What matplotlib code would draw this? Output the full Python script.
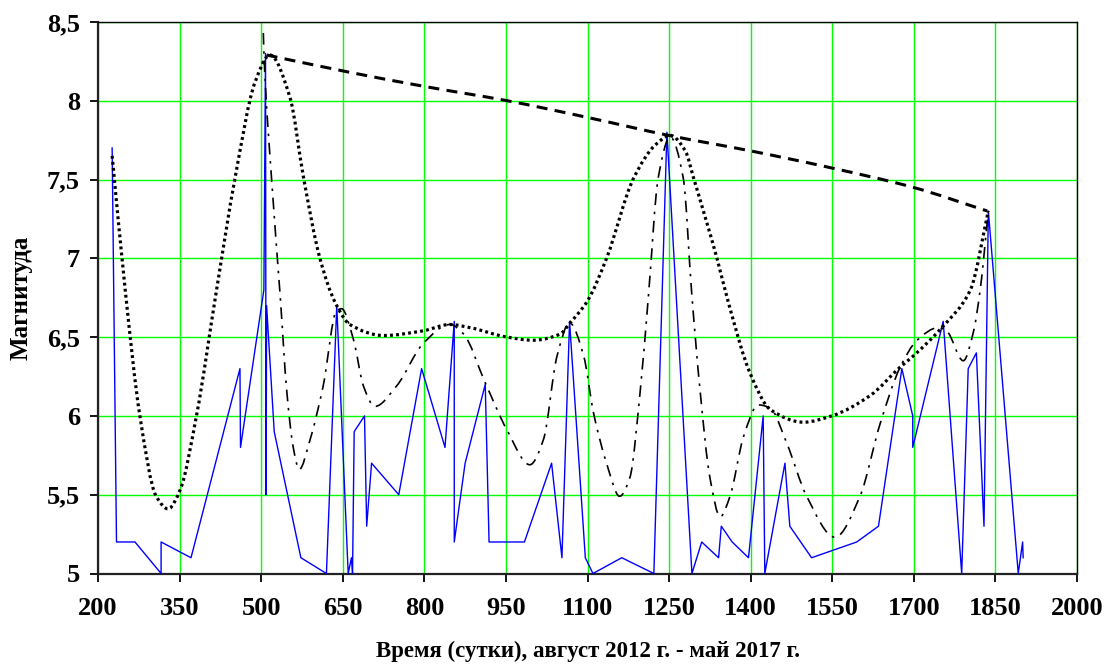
import numpy as np
import matplotlib
matplotlib.use("Agg")
import matplotlib.pyplot as plt
from matplotlib.path import Path
from matplotlib.patches import PathPatch
from matplotlib.ticker import FuncFormatter

# ---- data ----
blue_x = [226, 234, 268, 316, 316, 371, 461, 462, 505, 508, 509, 510, 524, 573, 620, 639,
          660, 666, 668, 671, 690, 694, 703, 753, 795, 838, 855, 855, 875, 912, 919, 984,
          1034, 1053, 1067, 1096, 1110, 1163, 1222, 1246, 1292, 1310, 1341, 1346, 1366,
          1396, 1423, 1426, 1463, 1472, 1512, 1595, 1635, 1678, 1698, 1698, 1754, 1788,
          1800, 1815, 1829, 1837, 1892, 1900, 1901]
blue_y = [7.70, 5.2, 5.2, 5.0, 5.2, 5.1, 6.3, 5.8, 6.8, 8.3, 5.5, 6.7, 5.9, 5.1, 5.0, 6.7,
          5.0, 5.1, 5.0, 5.9, 6.0, 5.3, 5.7, 5.5, 6.3, 5.8, 6.6, 5.2, 5.7, 6.2, 5.2, 5.2,
          5.7, 5.1, 6.6, 5.1, 5.0, 5.1, 5.0, 7.8, 5.0, 5.2, 5.1, 5.3, 5.2,
          5.1, 6.0, 5.0, 5.7, 5.3, 5.1, 5.2, 5.3, 6.3, 6.0, 5.8, 6.6, 5.0,
          6.3, 6.4, 5.3, 7.3, 5.0, 5.2, 5.1]

dotted_x = [226, 250, 277, 307, 329, 351, 381, 418, 452, 489, 516, 553, 578, 608, 636, 663,
            725, 798, 847, 884, 952, 1000, 1050, 1068, 1100, 1135, 1185, 1225, 1252, 1280, 1295,
            1338, 1359, 1399, 1436, 1497, 1549, 1620, 1675, 1699, 1754, 1804, 1837]
dotted_y = [7.65, 6.80, 6.00, 5.49, 5.41, 5.53, 6.00, 6.80, 7.51, 8.12, 8.29, 8.02, 7.51, 7.00, 6.72, 6.58,
            6.51, 6.54, 6.58, 6.56, 6.50, 6.48, 6.52, 6.59, 6.73, 7.00, 7.51, 7.72, 7.78, 7.68, 7.51,
            7.00, 6.72, 6.27, 6.04, 5.96, 6.00, 6.13, 6.31, 6.38, 6.57, 6.80, 7.30]

dashdot_x = [504, 505, 519, 535, 547, 559, 570, 590, 614, 639, 648, 670, 688, 709, 749, 798,
             847, 872, 912, 952, 994, 1019, 1044, 1067, 1093, 1111, 1135, 1159, 1178, 1197,
             1212, 1230, 1252, 1276, 1292, 1307, 1325, 1344, 1362, 1387, 1414, 1436, 1466,
             1503, 1555, 1601, 1638, 1675, 1706, 1745, 1760, 1791, 1810, 1822, 1837]
dashdot_y = [8.43, 8.31, 7.51, 6.76, 6.16, 5.80, 5.66, 5.85, 6.19, 6.67, 6.68, 6.48, 6.19, 6.06, 6.19, 6.46,
             6.58, 6.52, 6.21, 5.91, 5.69, 5.85, 6.38, 6.59, 6.38, 6.02, 5.70, 5.49, 5.61, 6.16,
             6.76, 7.51, 7.77, 7.51, 6.76, 6.16, 5.61, 5.36, 5.49, 5.87, 6.07, 6.05, 5.83,
             5.49, 5.23, 5.49, 5.95, 6.31, 6.48, 6.56, 6.54, 6.35, 6.54, 6.80, 7.30]

dashed_x = [510, 663, 801, 952, 1105, 1249, 1402, 1540, 1699, 1835]
dashed_y = [8.29, 8.18, 8.09, 8.00, 7.89, 7.78, 7.68, 7.58, 7.45, 7.30]

x_ticks = [200, 350, 500, 650, 800, 950, 1100, 1250, 1400, 1550, 1700, 1850, 2000]
y_ticks = [5, 5.5, 6, 6.5, 7, 7.5, 8, 8.5]
x_label = "Время (сутки), август 2012 г. - май 2017 г."
y_label = "Магнитуда"


def smooth_path(xs, ys):
    """Smoothed line through the points (cubic Bezier, monotone tangents)."""
    x = np.asarray(xs, float)
    y = np.asarray(ys, float)
    h = np.diff(x)
    d = np.diff(y) / h
    n = len(x)
    m = np.zeros(n)
    m[0], m[-1] = d[0], d[-1]
    for i in range(1, n - 1):
        if d[i - 1] * d[i] <= 0:
            m[i] = 0.0
        else:
            w1 = 2 * h[i] + h[i - 1]
            w2 = h[i] + 2 * h[i - 1]
            m[i] = (w1 + w2) / (w1 / d[i - 1] + w2 / d[i])
    verts = [(x[0], y[0])]
    codes = [Path.MOVETO]
    for i in range(n - 1):
        verts += [(x[i] + h[i] / 3, y[i] + m[i] * h[i] / 3),
                  (x[i + 1] - h[i] / 3, y[i + 1] - m[i + 1] * h[i] / 3),
                  (x[i + 1], y[i + 1])]
        codes += [Path.CURVE4] * 3
    return Path(verts, codes)


plt.rcParams['font.family'] = ['Liberation Serif', 'DejaVu Serif']
plt.rcParams['font.weight'] = 'bold'

fig = plt.figure(figsize=(11.04, 6.64), dpi=100)
ax = fig.add_axes([98 / 1104, 1 - 573.5 / 664, (1077 - 98) / 1104, (573.5 - 21.9) / 664])

ax.set_xlim(200, 2000)
ax.set_ylim(5, 8.5)
ax.set_xticks(x_ticks)
ax.set_yticks(y_ticks)
ax.yaxis.set_major_formatter(FuncFormatter(lambda v, p: f"{v:g}".replace('.', ',')))
ax.grid(True, color='#00FF00', linewidth=1.0, zorder=0)
ax.set_axisbelow(True)

ax.plot(blue_x, blue_y, color='#0000FF', linewidth=1.0, zorder=3)

ax.add_patch(PathPatch(smooth_path(dotted_x, dotted_y), fill=False, edgecolor='black',
                       linewidth=2.3, linestyle=(0, (0.9, 1.0)), capstyle='butt', zorder=4))
ax.add_patch(PathPatch(smooth_path(dashdot_x, dashdot_y), fill=False, edgecolor='black',
                       linewidth=1.2, linestyle=(0, (7, 4, 1.5, 4)), zorder=4))
ax.add_patch(PathPatch(smooth_path(dashed_x, dashed_y), fill=False, edgecolor='black',
                       linewidth=2.2, linestyle=(0, (3.6, 2.4)), zorder=4))

for side in ['top', 'right']:
    ax.spines[side].set_linewidth(1.0)
    ax.spines[side].set_color('black')
for side in ['left', 'bottom']:
    ax.spines[side].set_linewidth(1.6)
    ax.spines[side].set_color('#222222')

ax.tick_params(axis='both', direction='out', length=6, width=1.3, labelsize=19)
ax.tick_params(axis='x', pad=11)
ax.tick_params(axis='y', pad=7)
for lab in ax.get_xticklabels() + ax.get_yticklabels():
    lab.set_fontweight('bold')

ax.set_xlabel(x_label, fontsize=16.5, fontweight='bold', labelpad=15)
ax.set_ylabel(y_label, fontsize=18, fontweight='bold', labelpad=10)

fig.savefig("out.png", dpi=100)
